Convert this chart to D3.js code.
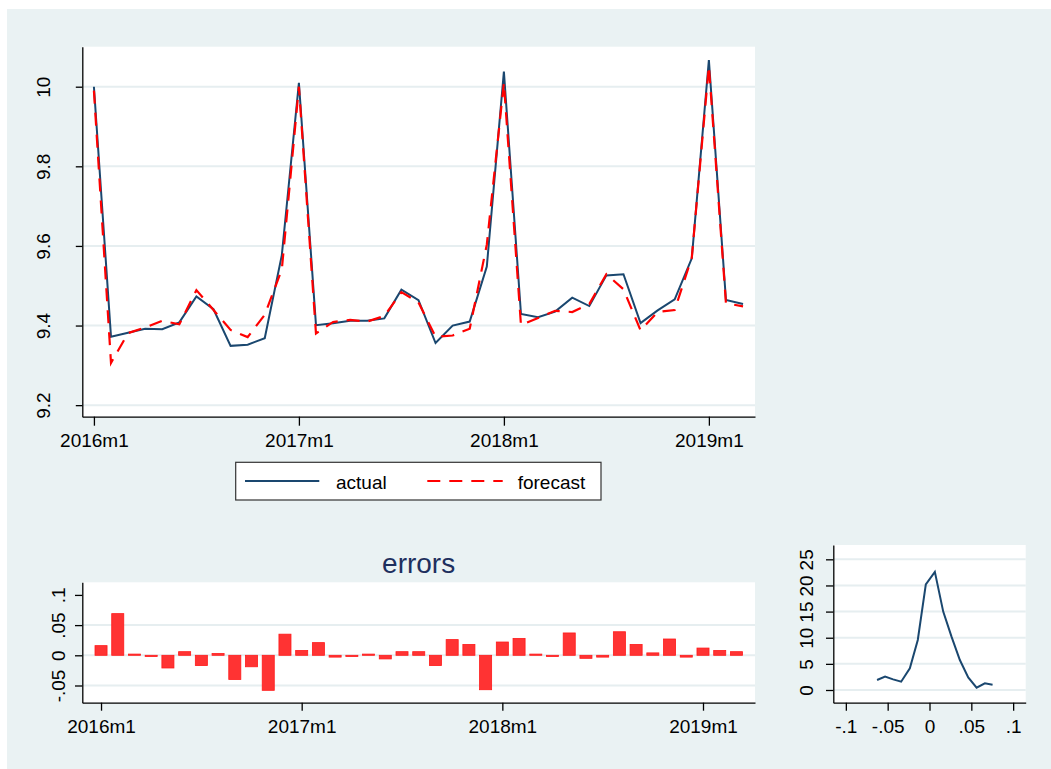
<!DOCTYPE html>
<html>
<head>
<meta charset="utf-8">
<script src="https://cdn.jsdelivr.net/npm/d3@7"></script>
<style>
  html, body { margin: 0; padding: 0; background: #fff; }
  svg { display: block; }
</style>
</head>
<body>
<script>
// months shown, 2016m1 .. 2019m3
var periods = ["2016m1","2016m2","2016m3","2016m4","2016m5","2016m6","2016m7","2016m8","2016m9","2016m10","2016m11","2016m12",
  "2017m1","2017m2","2017m3","2017m4","2017m5","2017m6","2017m7","2017m8","2017m9","2017m10","2017m11","2017m12",
  "2018m1","2018m2","2018m3","2018m4","2018m5","2018m6","2018m7","2018m8","2018m9","2018m10","2018m11","2018m12",
  "2019m1","2019m2","2019m3"];

var actual = [10.000, 9.372, 9.382, 9.392, 9.391, 9.408, 9.473, 9.441, 9.349, 9.352, 9.368, 9.577,
  10.010, 9.401, 9.406, 9.412, 9.412, 9.418, 9.490, 9.464, 9.356, 9.400, 9.410, 9.548,
  10.038, 9.429, 9.421, 9.435, 9.470, 9.449, 9.526, 9.529, 9.406, 9.438, 9.466, 9.569,
  10.067, 9.464, 9.454];

var forecast = [9.990, 9.306, 9.381, 9.395, 9.412, 9.403, 9.489, 9.439, 9.389, 9.371, 9.427, 9.541,
  10.000, 9.380, 9.409, 9.414, 9.410, 9.424, 9.484, 9.458, 9.372, 9.375, 9.392, 9.603,
  10.010, 9.401, 9.419, 9.437, 9.434, 9.454, 9.529, 9.491, 9.388, 9.434, 9.439, 9.571,
  10.052, 9.456, 9.448];

var errors = [0.016, 0.069, 0.002, -0.002, -0.021, 0.006, -0.017, 0.003, -0.040, -0.019, -0.058, 0.035,
  0.008, 0.021, -0.003, -0.002, 0.002, -0.006, 0.006, 0.006, -0.017, 0.026, 0.018, -0.057,
  0.022, 0.028, 0.002, -0.002, 0.037, -0.005, -0.003, 0.039, 0.018, 0.004, 0.027, -0.003,
  0.012, 0.008, 0.006];

// density of the errors
var densX = [-0.0627, -0.0531, -0.0435, -0.0339, -0.0235, -0.0140, -0.0044, 0.0064, 0.0164, 0.0263, 0.0363, 0.0463, 0.0563, 0.0662, 0.0754];
var densY = [1.91, 2.55, 2.04, 1.59, 4.15, 9.57, 20.2, 22.6, 15.0, 10.2, 5.74, 2.42, 0.45, 1.28, 1.02];

var timeTicks = [0, 12, 24, 36];
var mainYTicks = [9.2, 9.4, 9.6, 9.8, 10];
var mainYLabels = ["9.2", "9.4", "9.6", "9.8", "10"];
var errYTicks = [-0.05, 0, 0.05, 0.1];
var errYLabels = ["-.05", "0", ".05", ".1"];
var densXTicks = [-0.1, -0.05, 0, 0.05, 0.1];
var densXLabels = ["-.1", "-.05", "0", ".05", ".1"];
var densYTicks = [0, 5, 10, 15, 20, 25];

var w = 1051, h = 769;
var font = "'Liberation Sans', Arial, sans-serif";
var bg = "#eaf2f3";
var grid = "#e6eef0";
var navy = "#1a476f";

var svg = d3.select("body").append("svg")
  .attr("width", w)
  .attr("height", h);

svg.append("rect")
  .attr("x", 7).attr("y", 9)
  .attr("width", w - 7).attr("height", h - 9)
  .attr("fill", bg);

// draws plot region, grid, axes; returns group
function panel(x, y, xl, yl, opt) {
  svg.append("rect")
    .attr("x", xl.range()[0]).attr("y", yl.range()[1])
    .attr("width", xl.range()[1] - xl.range()[0])
    .attr("height", yl.range()[0] - yl.range()[1])
    .attr("fill", "#fff");

  svg.append("g")
    .selectAll("line")
    .data(opt.grid)
    .enter()
    .append("line")
    .attr("x1", xl.range()[0])
    .attr("x2", xl.range()[1])
    .attr("y1", function(d) { return yl(d); })
    .attr("y2", function(d) { return yl(d); })
    .attr("stroke", grid)
    .attr("stroke-width", 2);

  var gx = svg.append("g")
    .attr("transform", "translate(0," + yl.range()[0] + ")")
    .call(d3.axisBottom(xl).tickValues(opt.xTicks)
      .tickFormat(function(d, i) { return opt.xLabels[i]; })
      .tickSize(opt.xTickLen).tickSizeOuter(0));
  gx.select(".domain").attr("stroke", "#000").attr("stroke-width", 1.3);
  gx.selectAll(".tick line").attr("stroke", "#000").attr("stroke-width", 1.3);
  gx.selectAll(".tick text")
    .attr("y", opt.xLabelY).attr("dy", 0)
    .attr("font-family", font).attr("font-size", "19px").attr("fill", "#000");

  var gy = svg.append("g")
    .attr("transform", "translate(" + xl.range()[0] + ",0)")
    .call(d3.axisLeft(yl).tickValues(opt.yTicks)
      .tickFormat(function(d, i) { return opt.yLabels[i]; })
      .tickSize(opt.yTickLen).tickSizeOuter(0));
  gy.select(".domain").attr("stroke", "#000").attr("stroke-width", 1.3);
  gy.selectAll(".tick line").attr("stroke", "#000").attr("stroke-width", 1.3);
  gy.selectAll(".tick text")
    .attr("x", 0).attr("dy", 0)
    .attr("text-anchor", "middle")
    .attr("transform", "translate(" + (-opt.yLabelX) + ",0) rotate(-90)")
    .attr("font-family", font).attr("font-size", "19px").attr("fill", "#000");
}

// ---- main panel: actual vs forecast
var x1 = d3.scaleLinear().domain([-0.68, 38.7]).range([82.3, 755]);
var y1 = d3.scaleLinear().domain([9.171, 10.1005]).range([416.7, 46.7]);

panel(null, null, x1, y1, {
  grid: mainYTicks,
  xTicks: timeTicks, xLabels: timeTicks.map(function(d) { return periods[d]; }),
  xTickLen: 9, xLabelY: 30.6,
  yTicks: mainYTicks, yLabels: mainYLabels, yTickLen: 6.5, yLabelX: 32.3
});

var line1 = d3.line()
  .x(function(d, i) { return x1(i); })
  .y(function(d) { return y1(d); });

svg.append("path")
  .datum(actual)
  .attr("d", line1)
  .attr("fill", "none")
  .attr("stroke", navy)
  .attr("stroke-width", 2);

svg.append("path")
  .datum(forecast)
  .attr("d", line1)
  .attr("fill", "none")
  .attr("stroke", "#ff0000")
  .attr("stroke-width", 2.2)
  .attr("stroke-dasharray", "13,9");

// legend
var lg = svg.append("g");
lg.append("rect")
  .attr("x", 235.7).attr("y", 462.3)
  .attr("width", 365.3).attr("height", 37.7)
  .attr("fill", "#fff").attr("stroke", "#333").attr("stroke-width", 1.2);
lg.append("line")
  .attr("x1", 245).attr("x2", 319.3).attr("y1", 481).attr("y2", 481)
  .attr("stroke", navy).attr("stroke-width", 2);
lg.append("text")
  .attr("x", 336).attr("y", 488.5)
  .attr("font-family", font).attr("font-size", "19px")
  .text("actual");
lg.append("line")
  .attr("x1", 427.3).attr("x2", 502.7).attr("y1", 481).attr("y2", 481)
  .attr("stroke", "#ff0000").attr("stroke-width", 2.2)
  .attr("stroke-dasharray", "13,9");
lg.append("text")
  .attr("x", 517.7).attr("y", 488.5)
  .attr("font-family", font).attr("font-size", "19px")
  .text("forecast");

// ---- errors panel
var x2 = d3.scaleLinear().domain([-1.12, 39.11]).range([82.3, 755]);
var y2 = d3.scaleLinear().domain([-0.0785, 0.1209]).range([702.7, 582.3]);

panel(null, null, x2, y2, {
  grid: [-0.05, 0, 0.05],
  xTicks: timeTicks, xLabels: timeTicks.map(function(d) { return periods[d]; }),
  xTickLen: 8, xLabelY: 30,
  yTicks: errYTicks, yLabels: errYLabels, yTickLen: 7.3, yLabelX: 17.6
});

svg.append("g")
  .selectAll("rect")
  .data(errors)
  .enter()
  .append("rect")
  .attr("x", function(d, i) { return x2(i - 0.36); })
  .attr("width", function(d, i) { return x2(i + 0.36) - x2(i - 0.36); })
  .attr("y", function(d) { return y2(Math.max(0, d)); })
  .attr("height", function(d) { return Math.abs(y2(d) - y2(0)); })
  .attr("fill", "#ff3333")
  .attr("stroke", "#ff1a1a")
  .attr("stroke-width", 0.8);

svg.append("text")
  .attr("x", (82.3 + 755) / 2).attr("y", 572.7)
  .attr("text-anchor", "middle")
  .attr("font-family", font).attr("font-size", "28px")
  .attr("fill", "#1e2f5e")
  .text("errors");

// ---- density panel
var x3 = d3.scaleLinear().domain([-0.115, 0.115]).range([833.3, 1025.7]);
var y3 = d3.scaleLinear().domain([-2.43, 27.74]).range([702.7, 545]);

panel(null, null, x3, y3, {
  grid: densYTicks,
  xTicks: densXTicks, xLabels: densXLabels,
  xTickLen: 8, xLabelY: 30.6,
  yTicks: densYTicks, yLabels: densYTicks.map(String), yTickLen: 7.3, yLabelX: 20
});

svg.append("path")
  .datum(densX)
  .attr("d", d3.line()
    .x(function(d) { return x3(d); })
    .y(function(d, i) { return y3(densY[i]); }))
  .attr("fill", "none")
  .attr("stroke", navy)
  .attr("stroke-width", 2);
</script>
</body>
</html>
